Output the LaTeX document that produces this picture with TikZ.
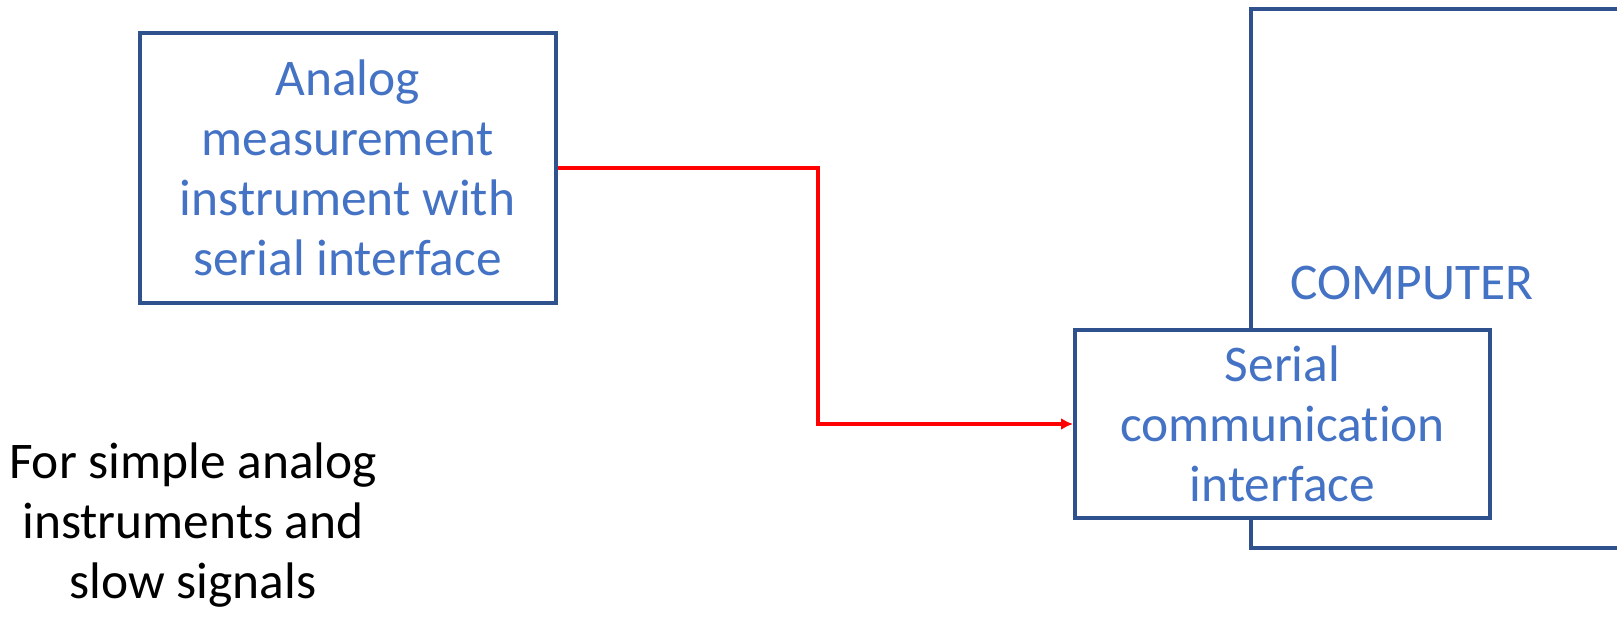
\documentclass[tikz,border=0pt]{standalone}
\usepackage{fontspec}
\setmainfont{Carlito}[Ligatures=NoCommon]
\usetikzlibrary{arrows.meta,positioning}
\definecolor{boxline}{HTML}{2F528F}
\definecolor{boxtext}{HTML}{4472C4}

\begin{document}
\begin{tikzpicture}[x=0.5pt,y=-0.5pt,
    blk/.style={draw=boxline,line width=2pt,fill=white,text=boxtext,align=center,
        font=\fontsize{25.7}{30}\selectfont,inner sep=0pt},
    sig/.style={draw=red,line width=2pt,-{Latex[length=6pt,width=6pt]}}]
    \useasboundingbox (0,0) rectangle (1617,626);
    \clip (0,0) rectangle (1617,626);

    \node[blk,minimum width=208pt,minimum height=135pt]  (ana) at (347.5,168)
        {Analog\\measurement\\instrument with\\serial interface};
    \node[blk,minimum width=250pt,minimum height=269.5pt] (pc) at (1501,278.5) {};
    \node[text=boxtext,font=\fontsize{25.7}{30}\selectfont,inner sep=0pt] (pclabel) at (1412,283) {COMPUTER};
    \node[blk,minimum width=207.5pt,minimum height=94pt]  (ser) at (1282.5,424)
        {Serial\\communication\\interface};
    \node[align=center,font=\fontsize{25.7}{30}\selectfont,inner sep=0pt] (note) at (193,525)
        {For simple analog\\instruments and\\slow signals};

    \draw[sig]  (ana.east) -- ++(260,0) |- (ser.west);
\end{tikzpicture}
\end{document}
